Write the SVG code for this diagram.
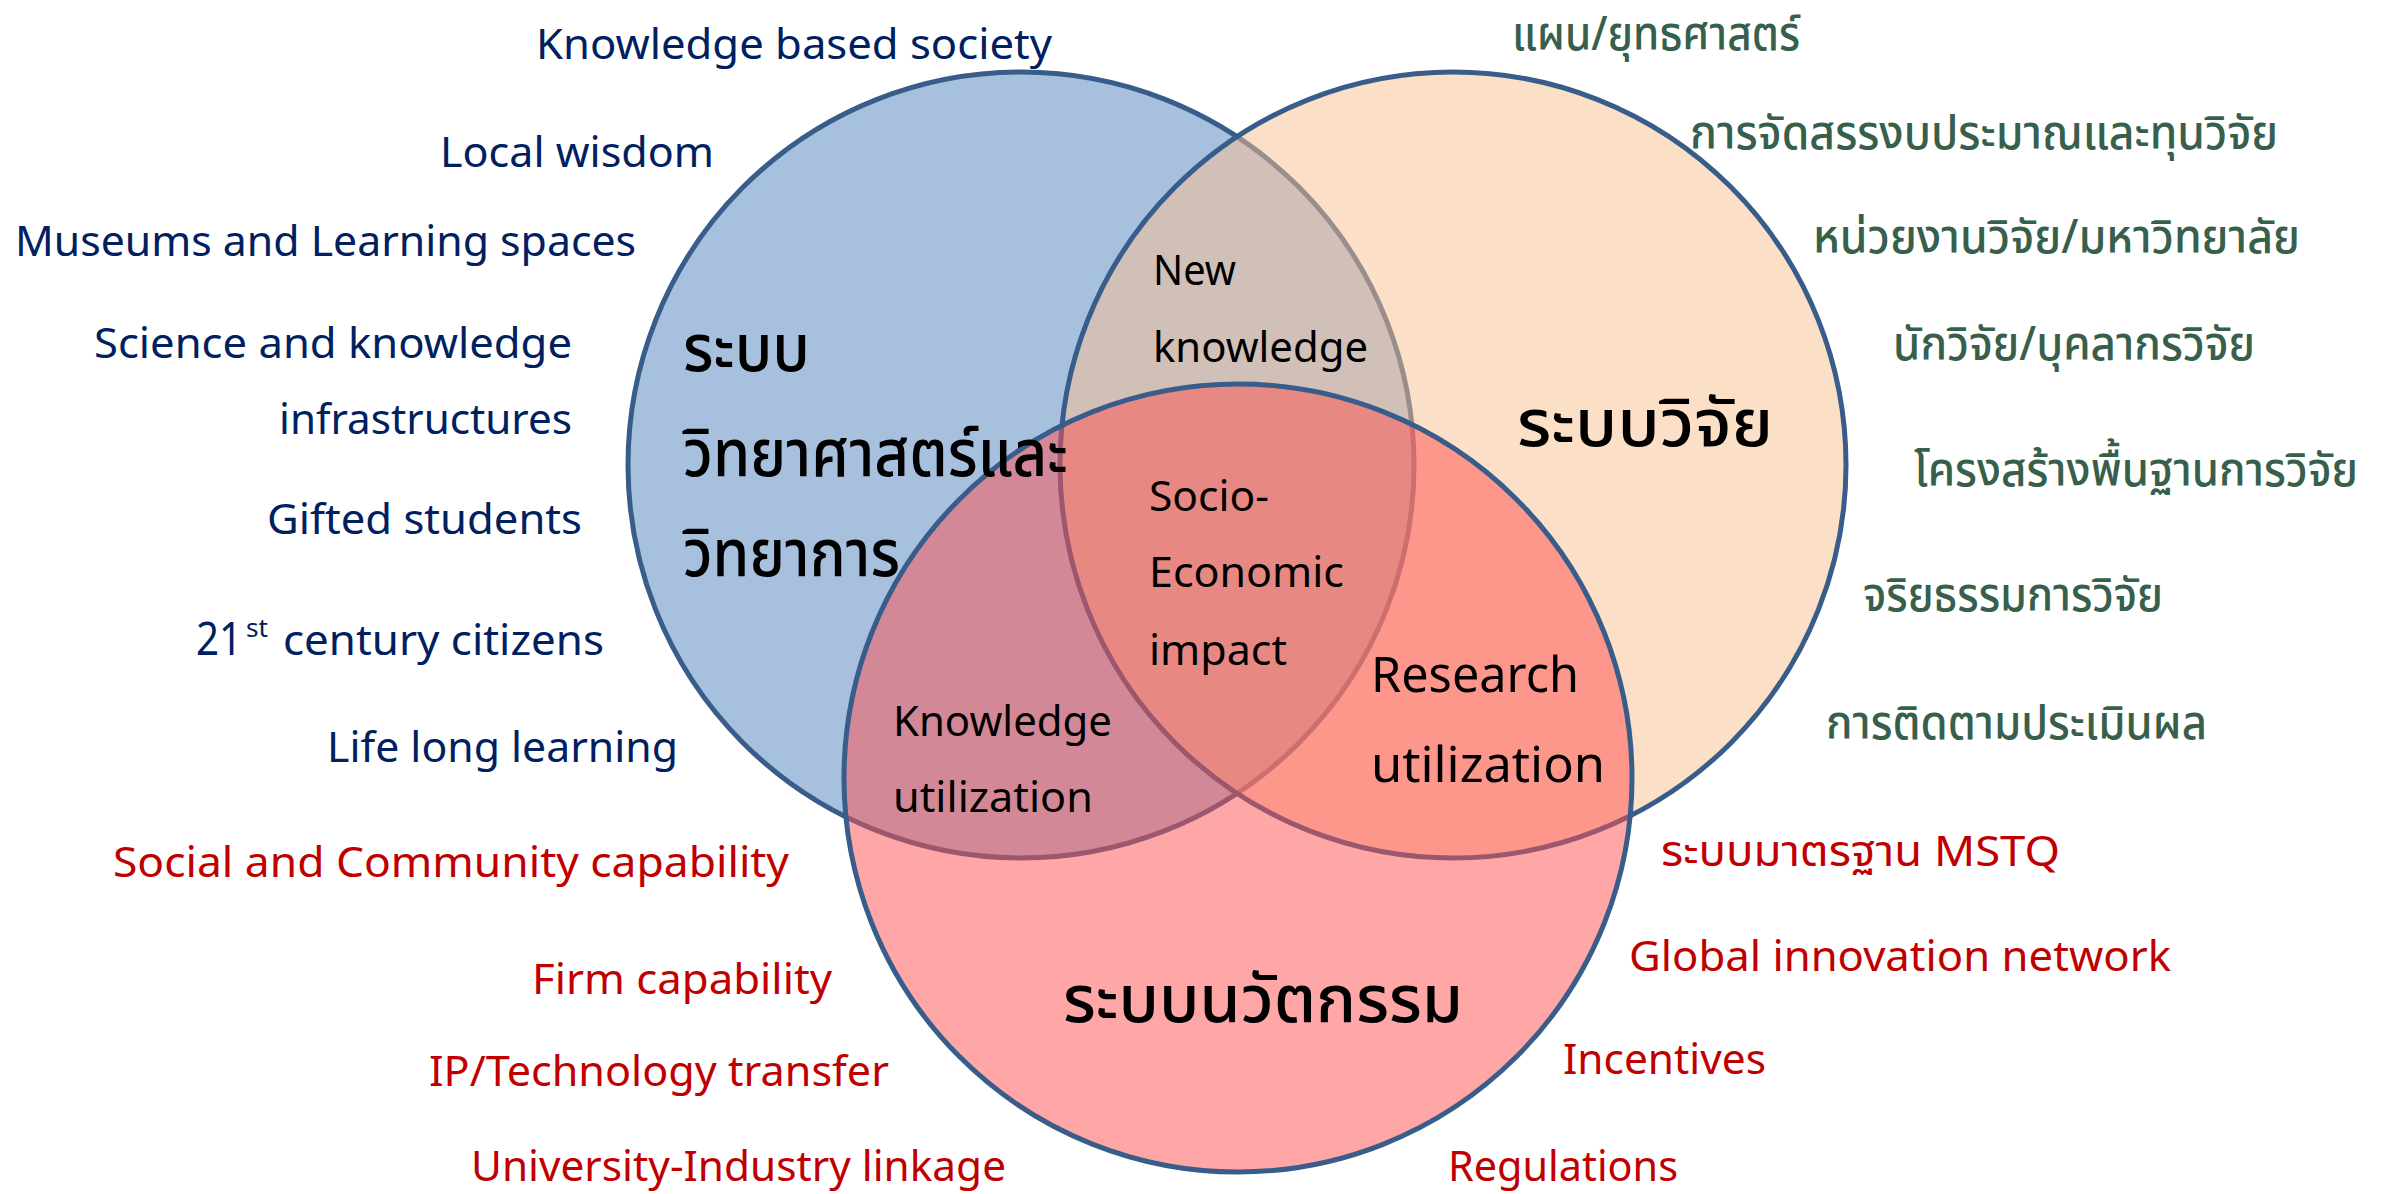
<svg xmlns="http://www.w3.org/2000/svg" width="2390" height="1194" viewBox="0 0 2390 1194">
<style>
text{font-family:'Noto Sans','Noto Sans Thai','Noto Sans Thai UI',sans-serif}
.navy{fill:#002060;font-size:42px}
.green{fill:#375F4B;font-size:47px;font-weight:500}
.red{fill:#C00000;font-size:42px}
.ctr{fill:#000;font-size:42px}
.ctrb{fill:#000;font-size:50px}
.big{fill:#000;font-size:66px;font-weight:500}
.c{stroke:#385D8A;stroke-width:5}
</style>
<rect width="2390" height="1194" fill="#fff"/>
<g id="circle-science">
<circle class="c" cx="1021" cy="465" r="393" fill="#4F81BD" fill-opacity="0.5"/>
</g>
<g id="circle-research">
<circle class="c" cx="1453" cy="465" r="393" fill="#FAC090" fill-opacity="0.5"/>
</g>
<g id="circle-innovation">
<circle class="c" cx="1238" cy="778" r="394" fill="#FF5050" fill-opacity="0.5"/>
</g>
<g id="labels-science" class="navy">
<text x="536" y="59" textLength="516" lengthAdjust="spacingAndGlyphs">Knowledge based society</text>
<text x="440" y="167" textLength="274" lengthAdjust="spacingAndGlyphs">Local wisdom</text>
<text x="15" y="256" textLength="621" lengthAdjust="spacingAndGlyphs">Museums and Learning spaces</text>
<text x="94" y="358" textLength="478" lengthAdjust="spacingAndGlyphs">Science and knowledge</text>
<text x="279" y="434" textLength="293" lengthAdjust="spacingAndGlyphs">infrastructures</text>
<text x="267" y="534" textLength="315" lengthAdjust="spacingAndGlyphs">Gifted students</text>
<text x="196" y="655" style="font-size:45px" textLength="46" lengthAdjust="spacingAndGlyphs">21</text>
<text x="246" y="637" style="font-size:26px" textLength="22" lengthAdjust="spacingAndGlyphs">st</text>
<text x="283" y="655" textLength="321" lengthAdjust="spacingAndGlyphs">century citizens</text>
<text x="327" y="762" textLength="351" lengthAdjust="spacingAndGlyphs">Life long learning</text>
</g>
<g id="labels-research" class="green">
<text x="1512" y="50" textLength="288" lengthAdjust="spacingAndGlyphs">แผน/ยุทธศาสตร์</text>
<text x="1690" y="149" textLength="588" lengthAdjust="spacingAndGlyphs">การจัดสรรงบประมาณและทุนวิจัย</text>
<text x="1813" y="253" textLength="487" lengthAdjust="spacingAndGlyphs">หน่วยงานวิจัย/มหาวิทยาลัย</text>
<text x="1893" y="360" textLength="362" lengthAdjust="spacingAndGlyphs">นักวิจัย/บุคลากรวิจัย</text>
<text x="1914" y="486" textLength="444" lengthAdjust="spacingAndGlyphs">โครงสร้างพื้นฐานการวิจัย</text>
<text x="1863" y="611" textLength="300" lengthAdjust="spacingAndGlyphs">จริยธรรมการวิจัย</text>
<text x="1826" y="739" textLength="381" lengthAdjust="spacingAndGlyphs">การติดตามประเมินผล</text>
</g>
<g id="labels-innovation" class="red">
<text x="113" y="877" textLength="676" lengthAdjust="spacingAndGlyphs">Social and Community capability</text>
<text x="532" y="994" textLength="300" lengthAdjust="spacingAndGlyphs">Firm capability</text>
<text x="429" y="1086" textLength="460" lengthAdjust="spacingAndGlyphs">IP/Technology transfer</text>
<text x="471" y="1181" textLength="535" lengthAdjust="spacingAndGlyphs">University-Industry linkage</text>
<text x="1661" y="866" textLength="399" lengthAdjust="spacingAndGlyphs">ระบบมาตรฐาน MSTQ</text>
<text x="1629" y="971" textLength="542" lengthAdjust="spacingAndGlyphs">Global innovation network</text>
<text x="1563" y="1074" textLength="203" lengthAdjust="spacingAndGlyphs">Incentives</text>
<text x="1448" y="1181" textLength="230" lengthAdjust="spacingAndGlyphs">Regulations</text>
</g>
<g id="titles" class="big">
<text x="683" y="371" textLength="127" lengthAdjust="spacingAndGlyphs">ระบบ</text>
<text x="683" y="476" textLength="385" lengthAdjust="spacingAndGlyphs">วิทยาศาสตร์และ</text>
<text x="683" y="576" textLength="217" lengthAdjust="spacingAndGlyphs">วิทยาการ</text>
<text x="1517" y="446" textLength="256" lengthAdjust="spacingAndGlyphs">ระบบวิจัย</text>
<text x="1063" y="1022" textLength="400" lengthAdjust="spacingAndGlyphs">ระบบนวัตกรรม</text>
</g>
<g id="overlap-labels" class="ctr">
<text x="1153" y="285" textLength="83" lengthAdjust="spacingAndGlyphs">New</text>
<text x="1153" y="362" textLength="215" lengthAdjust="spacingAndGlyphs">knowledge</text>
<text x="1149" y="511" textLength="120" lengthAdjust="spacingAndGlyphs">Socio-</text>
<text x="1149" y="587" textLength="195" lengthAdjust="spacingAndGlyphs">Economic</text>
<text x="1149" y="665" textLength="138" lengthAdjust="spacingAndGlyphs">impact</text>
<text x="893" y="736" textLength="219" lengthAdjust="spacingAndGlyphs">Knowledge</text>
<text x="893" y="812" textLength="200" lengthAdjust="spacingAndGlyphs">utilization</text>
<text x="1371" y="692" class="ctrb" textLength="208" lengthAdjust="spacingAndGlyphs">Research</text>
<text x="1371" y="782" class="ctrb" textLength="234" lengthAdjust="spacingAndGlyphs">utilization</text>
</g>
</svg>
